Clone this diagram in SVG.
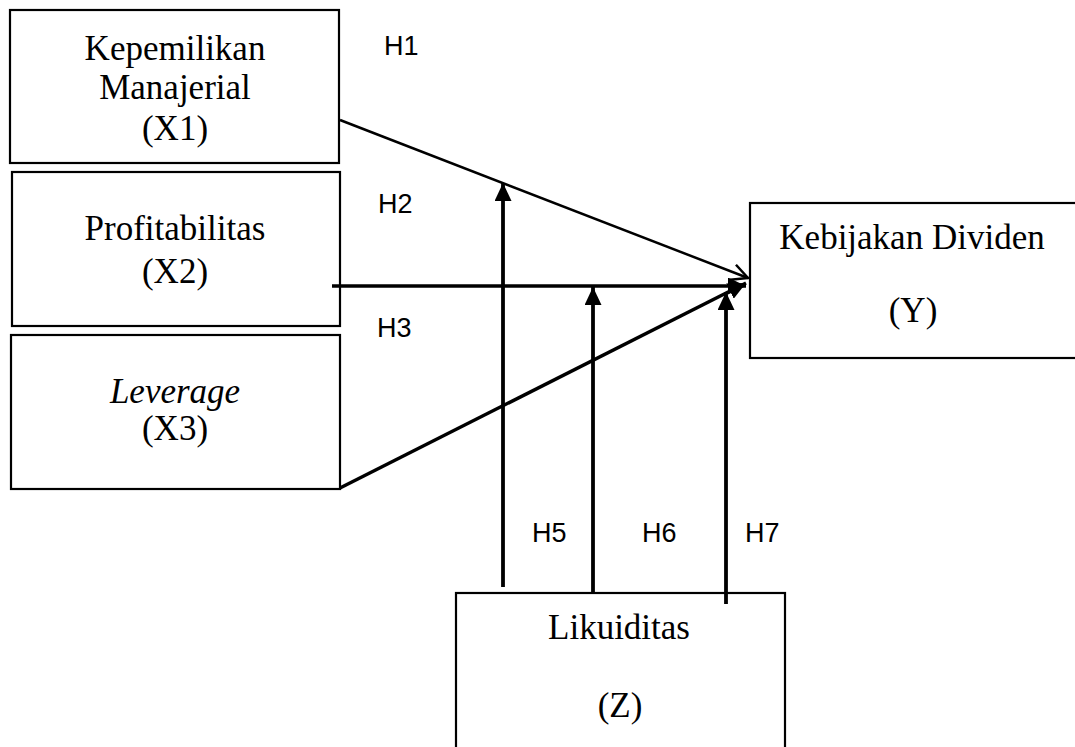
<svg xmlns="http://www.w3.org/2000/svg" width="1075" height="747" viewBox="0 0 1075 747">
<defs>
<style>
.box{fill:#fff;stroke:#000;stroke-width:2.2}
.t{font-family:"Liberation Serif","Times New Roman",serif;font-size:35px;fill:#000;text-anchor:middle}
.h{font-family:"Liberation Sans",Arial,sans-serif;font-size:27px;fill:#000}
.ln{stroke:#000;fill:none}
</style>
<marker id="tri" viewBox="0 0 18 17" refX="18" refY="8.5" markerWidth="18" markerHeight="17" markerUnits="userSpaceOnUse" orient="auto">
<path d="M0,0 L18,8.5 L0,17 Z" fill="#000"/>
</marker>
<marker id="open" viewBox="0 0 20 20" refX="18" refY="10" markerWidth="20" markerHeight="20" markerUnits="userSpaceOnUse" orient="auto">
<path d="M2,2 L18,10 L2,18" fill="none" stroke="#000" stroke-width="2.5"/>
</marker>
</defs>
<rect width="1075" height="747" fill="#fff"/>
<g id="X1">
<rect class="box" x="10" y="10" width="329" height="153"/>
<text class="t" x="175" y="60">Kepemilikan</text>
<text class="t" x="175" y="99">Manajerial</text>
<text class="t" x="175" y="140">(X1)</text>
</g>
<g id="X2">
<rect class="box" x="12" y="172" width="328" height="154"/>
<text class="t" x="175" y="240">Profitabilitas</text>
<text class="t" x="175" y="283">(X2)</text>
</g>
<g id="X3">
<rect class="box" x="11" y="335" width="329" height="154"/>
<text class="t" x="175" y="403" font-style="italic">Leverage</text>
<text class="t" x="175" y="440">(X3)</text>
</g>
<g id="Y">
<rect class="box" x="750" y="203" width="330" height="155"/>
<text class="t" x="912" y="249">Kebijakan Dividen</text>
<text class="t" x="913" y="322">(Y)</text>
</g>
<g id="Z">
<rect class="box" x="456" y="593" width="329" height="170"/>
<text class="t" x="619" y="639">Likuiditas</text>
<text class="t" x="620" y="717">(Z)</text>
</g>
<g id="connectors">
<line class="ln" x1="340" y1="120" x2="748" y2="278" stroke-width="2.5" marker-end="url(#open)"/>
<line class="ln" x1="332" y1="286" x2="746" y2="286" stroke-width="3.5" marker-end="url(#tri)"/>
<line class="ln" x1="340" y1="488" x2="746" y2="283" stroke-width="3.5" marker-end="url(#tri)"/>
<line class="ln" x1="503" y1="587" x2="503" y2="183" stroke-width="3.8" marker-end="url(#tri)"/>
<line class="ln" x1="593" y1="593" x2="593" y2="287" stroke-width="3.8" marker-end="url(#tri)"/>
<line class="ln" x1="726" y1="604" x2="726" y2="292" stroke-width="3.8" marker-end="url(#tri)"/>
</g>
<g id="labels">
<text class="h" x="384" y="55">H1</text>
<text class="h" x="378" y="213">H2</text>
<text class="h" x="377" y="337">H3</text>
<text class="h" x="532" y="542">H5</text>
<text class="h" x="642" y="542">H6</text>
<text class="h" x="745" y="542">H7</text>
</g>
</svg>
